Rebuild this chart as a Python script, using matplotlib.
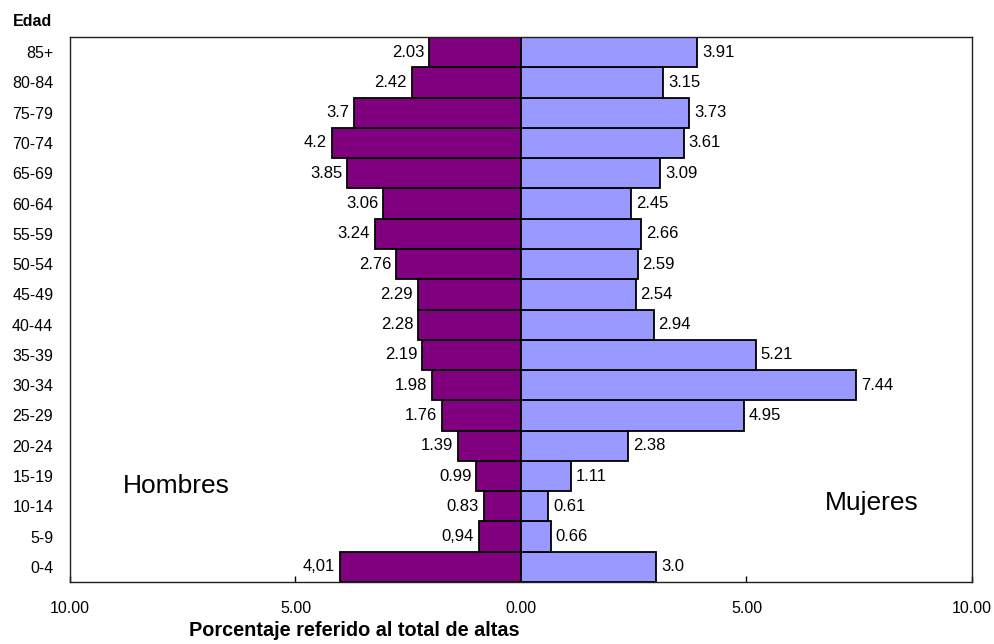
import matplotlib
matplotlib.use("Agg")
import matplotlib.pyplot as plt

plt.rcParams['font.family'] = ['Liberation Sans', 'DejaVu Sans']

age_groups = ["0-4", "5-9", "10-14", "15-19", "20-24", "25-29", "30-34", "35-39",
              "40-44", "45-49", "50-54", "55-59", "60-64", "65-69", "70-74",
              "75-79", "80-84", "85+"]
hombres = [4.01, 0.94, 0.83, 0.99, 1.39, 1.76, 1.98, 2.19, 2.28, 2.29, 2.76,
           3.24, 3.06, 3.85, 4.2, 3.7, 2.42, 2.03]
hombres_labels = ["4,01", "0,94", "0.83", "0.99", "1.39", "1.76", "1.98", "2.19",
                  "2.28", "2.29", "2.76", "3.24", "3.06", "3.85", "4.2", "3.7",
                  "2.42", "2.03"]
mujeres = [3.0, 0.66, 0.61, 1.11, 2.38, 4.95, 7.44, 5.21, 2.94, 2.54, 2.59,
           2.66, 2.45, 3.09, 3.61, 3.73, 3.15, 3.91]
mujeres_labels = ["3.0", "0.66", "0.61", "1.11", "2.38", "4.95", "7.44", "5.21",
                  "2.94", "2.54", "2.59", "2.66", "2.45", "3.09", "3.61", "3.73",
                  "3.15", "3.91"]
x_ticks = [-10, -5, 0, 5, 10]
x_tick_labels = ["10.00", "5.00", "0.00", "5.00", "10.00"]

fig = plt.figure(figsize=(9.94, 6.44), dpi=100)
ax = fig.add_axes([0.0704, 0.0963, 0.9074, 0.8462])

ypos = list(range(len(age_groups)))
ax.barh(ypos, [-v for v in hombres], height=1.0, color="#800080",
        edgecolor="black", linewidth=1.3, zorder=2)
ax.barh(ypos, mujeres, height=1.0, color="#9999FF",
        edgecolor="black", linewidth=1.3, zorder=2)

fs = 11.5
for y, v, lab in zip(ypos, hombres, hombres_labels):
    ax.annotate(lab, (-v, y), xytext=(-3.5, 0), textcoords="offset points",
                ha="right", va="center", fontsize=12)
for y, v, lab in zip(ypos, mujeres, mujeres_labels):
    ax.annotate(lab, (v, y), xytext=(3.5, 0), textcoords="offset points",
                ha="left", va="center", fontsize=12)

ax.set_xlim(-10, 10)
ax.set_ylim(-0.5, len(age_groups) - 0.5)
ax.set_xticks(x_ticks)
ax.set_xticklabels(x_tick_labels, fontsize=fs)
ax.set_yticks(ypos)
ax.set_yticklabels(age_groups, fontsize=fs)
ax.tick_params(axis="x", direction="in", length=4, width=1, pad=14)
ax.tick_params(axis="y", length=0, pad=12)

for sp in ax.spines.values():
    sp.set_color("#202020")
    sp.set_linewidth(1.0)

ax.text(-8.83, 2.67, "Hombres", fontsize=19, ha="left", va="center")
ax.text(6.74, 2.11, "Mujeres", fontsize=19, ha="left", va="center")

fig.text(13 / 994, 1 - 22 / 644, "Edad", fontsize=fs, fontweight="bold",
         ha="left", va="center")
fig.text(354 / 994, 1 - 631 / 644, "Porcentaje referido al total de altas",
         fontsize=14.3, fontweight="bold", ha="center", va="center")

fig.savefig("out.png", dpi=100)
